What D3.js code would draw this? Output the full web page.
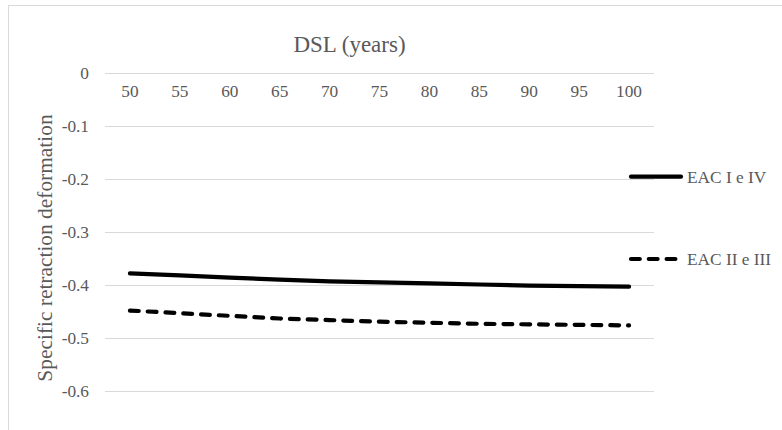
<!DOCTYPE html>
<html>
<head>
<meta charset="utf-8">
<script src="https://cdn.jsdelivr.net/npm/d3@7"></script>
<style>
  html, body { margin: 0; padding: 0; background: #fff; }
  svg { display: block; }
  text { font-family: "Liberation Serif", "Times New Roman", serif; fill: #595959; }
</style>
</head>
<body>
<svg id="chart" width="782" height="430"></svg>
<script>
// ---- data ----
const categories = ["50", "55", "60", "65", "70", "75", "80", "85", "90", "95", "100"];
const eacIandIV = [-0.378, -0.382, -0.386, -0.390, -0.393, -0.395, -0.397, -0.399, -0.401, -0.402, -0.403];
const eacIIandIII = [-0.448, -0.453, -0.458, -0.463, -0.466, -0.469, -0.471, -0.473, -0.474, -0.475, -0.476];
const yTicks = [0, -0.1, -0.2, -0.3, -0.4, -0.5, -0.6];
const yTickLabels = ["0", "-0.1", "-0.2", "-0.3", "-0.4", "-0.5", "-0.6"];
const seriesNames = ["EAC I e IV", "EAC II e III"];
const chartTitle = "DSL (years)";
const yTitle = "Specific retraction deformation";

const series = [
  { name: seriesNames[0], values: eacIandIV, dash: null },
  { name: seriesNames[1], values: eacIIandIII, dash: "8.8,9" }
];

const svg = d3.select("#chart");

// chart border
svg.append("rect")
  .attr("x", 8.5).attr("y", 5.5)
  .attr("width", 820).attr("height", 500)
  .attr("fill", "none").attr("stroke", "#d9d9d9").attr("stroke-width", 1);

const plot = { left: 105, right: 654, top: 72.5, bottom: 391.3 };

const x = d3.scaleBand().domain(categories).range([plot.left, plot.right]).paddingInner(0).paddingOuter(0);
const y = d3.scaleLinear().domain([-0.6, 0]).range([plot.bottom, plot.top]);
const cx = c => x(c) + x.bandwidth() / 2;

// gridlines
svg.append("g").selectAll("line").data(yTicks).join("line")
  .attr("x1", plot.left).attr("x2", plot.right)
  .attr("y1", d => Math.round(y(d)) + 0.5).attr("y2", d => Math.round(y(d)) + 0.5)
  .attr("stroke", "#d9d9d9").attr("stroke-width", 1);

// y tick labels
svg.append("g").selectAll("text").data(yTicks).join("text")
  .attr("x", 89).attr("y", d => y(d))
  .attr("dy", "0.35em")
  .attr("text-anchor", "end")
  .attr("font-size", "17.3px")
  .text((d, i) => yTickLabels[i]);

// x tick labels (axis at top, value 0)
svg.append("g").selectAll("text").data(categories).join("text")
  .attr("x", d => cx(d)).attr("y", 97)
  .attr("text-anchor", "middle")
  .attr("font-size", "17.3px")
  .text(d => d);

// title
svg.append("text")
  .attr("x", 349.5).attr("y", 52)
  .attr("text-anchor", "middle")
  .attr("font-size", "23px")
  .text(chartTitle);

// y axis title
svg.append("text")
  .attr("transform", "translate(52,248) rotate(-90)")
  .attr("text-anchor", "middle")
  .attr("font-size", "21.4px")
  .text(yTitle);

// lines
const line = d3.line().x((d, i) => cx(categories[i])).y(d => y(d));
series.forEach(s => {
  svg.append("path")
    .datum(s.values)
    .attr("d", line)
    .attr("fill", "none")
    .attr("stroke", "#000")
    .attr("stroke-width", 4.2)
    .attr("stroke-linecap", "round")
    .attr("stroke-linejoin", "round")
    .attr("stroke-dasharray", s.dash);
});

// legend
const legendY = [176.7, 259];
series.forEach((s, i) => {
  svg.append("line")
    .attr("x1", 631).attr("x2", 681)
    .attr("y1", legendY[i]).attr("y2", legendY[i])
    .attr("stroke", "#000")
    .attr("stroke-width", 4.2)
    .attr("stroke-linecap", "round")
    .attr("stroke-dasharray", s.dash);
  svg.append("text")
    .attr("x", 687).attr("y", legendY[i])
    .attr("dy", "0.35em")
    .attr("font-size", "17.3px")
    .text(s.name);
});
</script>
</body>
</html>
